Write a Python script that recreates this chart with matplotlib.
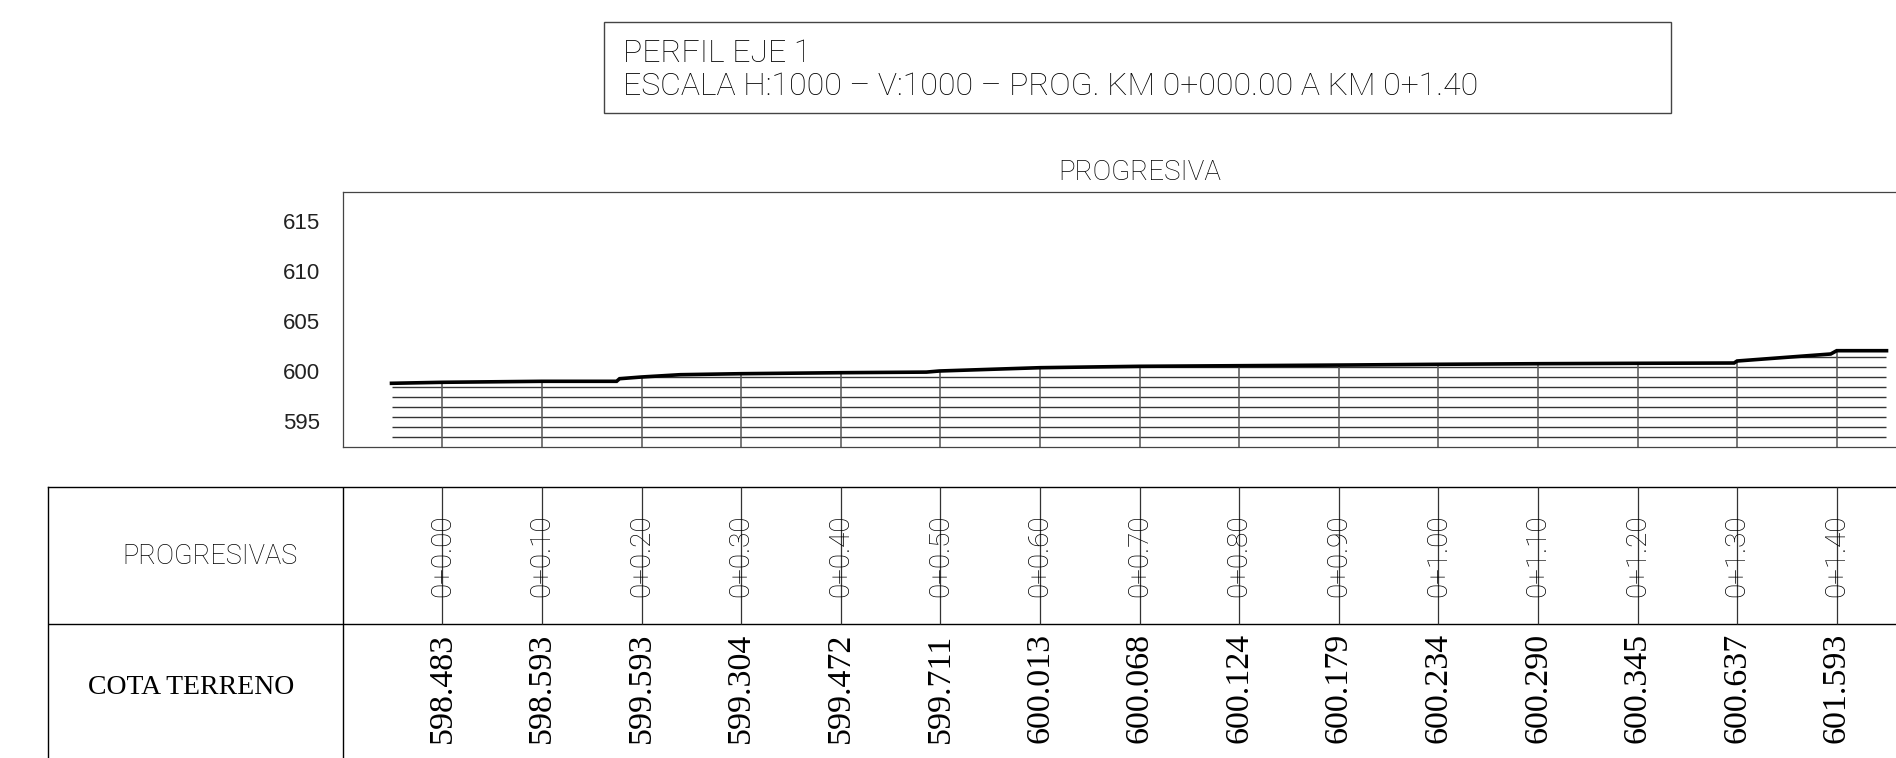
import numpy as np
import matplotlib
matplotlib.use("Agg")
import matplotlib.pyplot as plt
from matplotlib.patches import Polygon, Rectangle
from matplotlib.transforms import ScaledTranslation


# Estaciones y cotas del perfil (km)
stations = [0.00, 0.10, 0.20, 0.30, 0.40, 0.50, 0.60, 0.70,
            0.80, 0.90, 1.00, 1.10, 1.20, 1.30, 1.40]
station_labels = ["0+0.00", "0+0.10", "0+0.20", "0+0.30", "0+0.40",
                  "0+0.50", "0+0.60", "0+0.70", "0+0.80", "0+0.90",
                  "0+1.00", "0+1.10", "0+1.20", "0+1.30", "0+1.40"]
cota_terreno = [598.483, 598.593, 599.593, 599.304, 599.472, 599.711,
                600.013, 600.068, 600.124, 600.179, 600.234, 600.290,
                600.345, 600.637, 601.593]

terrain_d = [-0.051, 0.0, 0.10, 0.175, 0.178, 0.20, 0.239, 0.30, 0.40,
             0.486, 0.499, 0.60, 0.70, 0.80, 0.91, 1.00, 1.10, 1.20,
             1.297, 1.30, 1.394, 1.40, 1.45]
terrain_z = [598.40, 598.50, 598.60, 598.60, 598.86, 599.03, 599.26,
             599.36, 599.46, 599.52, 599.63, 599.96, 600.10, 600.16,
             600.23, 600.30, 600.36, 600.40, 600.43, 600.63, 601.33,
             601.66, 601.66]

y_ticks = [595, 600, 605, 610, 615]
hatch_levels = [593, 594, 595, 596, 597, 598, 599, 600, 601]

title_lines = ["PERFIL EJE 1",
               "ESCALA H:1000 – V:1000 – PROG. KM 0+000.00 A KM 0+1.40"]


# Escala comun en x (pixeles por km)
W, H = 1896, 758
PX_KM = 996.0
X0 = 442.3


def fx(d):
    return (X0 + d * PX_KM) / W


def fy(py):
    return (H - py) / H


cad = dict(family="Roboto", fontweight="light", color="black")

fig = plt.figure(figsize=(W / 100, H / 100), dpi=100)

# ==============================
# Perfil
# ==============================
x_lo, x_hi = -0.10, 1.50
ax = fig.add_axes([fx(x_lo), fy(447.3), fx(x_hi) - fx(x_lo), fy(192.3) - fy(447.3)])
ax.set_xlim(x_lo, x_hi)
ax.set_ylim(592, 617.5)

base = ax.get_ylim()[0]
poly = Polygon(
    list(zip(terrain_d, terrain_z)) + [(terrain_d[-1], base), (terrain_d[0], base)],
    closed=True, facecolor="none", edgecolor="none", transform=ax.transData
)
ax.add_patch(poly)

hl = ax.hlines(hatch_levels, terrain_d[0], terrain_d[-1], colors="#333333", linewidth=1.0)
hl.set_clip_path(poly)

ax.vlines(stations, base, np.interp(stations, terrain_d, terrain_z),
          colors="#555555", linewidth=1.1)

ax.plot(terrain_d, terrain_z, color="black", linewidth=2.6, solid_joinstyle="miter")

ax.set_xticks([])
ax.set_yticks(y_ticks)
ax.tick_params(axis="y", length=0, pad=16, labelsize=16, labelcolor="#222222")
shift = ScaledTranslation(0, -4 / 100, fig.dpi_scale_trans)
for lab in ax.get_yticklabels():
    lab.set_family("Liberation Sans")
    lab.set_transform(lab.get_transform() + shift)
for side in ["left", "top", "bottom", "right"]:
    ax.spines[side].set_color("#444444")
    ax.spines[side].set_linewidth(0.9)

ax.set_title("PROGRESIVA", pad=9, fontsize=20, **cad)

# ==============================
# Tabla inferior
# ==============================
t_lo = (48 - X0) / PX_KM
axt = fig.add_axes([fx(t_lo), 0, fx(x_hi) - fx(t_lo), fy(487.3)])
axt.set_xlim(t_lo, x_hi)
axt.set_ylim(0, 1)
axt.axis("off")

row_div = (H - 624) / (H - 487.3)
axt.plot([t_lo, x_hi], [1, 1], color="black", linewidth=1.0, clip_on=False)
axt.plot([t_lo, t_lo], [0, 1], color="black", linewidth=1.0, clip_on=False)
axt.plot([t_lo, x_hi], [row_div, row_div], color="black", linewidth=1.0)
axt.plot([x_lo, x_lo], [0, 1], color="black", linewidth=1.0)
axt.vlines(stations, row_div, 1, colors="#333333", linewidth=0.9)

axt.text(-0.233, (H - 556) / (H - 487.3), "PROGRESIVAS",
         ha="center", va="center", fontsize=19.5, **cad)
axt.text(-0.252, (H - 688) / (H - 487.3), "COTA TERRENO",
         ha="center", va="center", fontsize=20, family="Liberation Serif", color="black")

for s, lab in zip(stations, station_labels):
    axt.text(s, (H - 555.6) / (H - 487.3), lab, rotation=90,
             ha="center", va="center", fontsize=20, **cad)

for s, v in zip(stations, cota_terreno):
    axt.text(s, (H - 688) / (H - 487.3), f"{v:.3f}", rotation=90,
             ha="center", va="center", fontsize=24.5,
             family="Liberation Serif", color="black")

# ==============================
# Cuadro de titulo
# ==============================
fig.patches.append(Rectangle(
    (604 / W, fy(112.5)), (1671 - 604) / W, (112.5 - 22.3) / H,
    transform=fig.transFigure, facecolor="none", edgecolor="#444444", linewidth=1.0
))
fig.text(623 / W, fy(61.7), title_lines[0], ha="left", va="baseline", fontsize=23, **cad)
fig.text(623 / W, fy(95.0), title_lines[1], ha="left", va="baseline", fontsize=23, **cad)

fig.savefig("out.png", dpi=100)
plt.close(fig)
